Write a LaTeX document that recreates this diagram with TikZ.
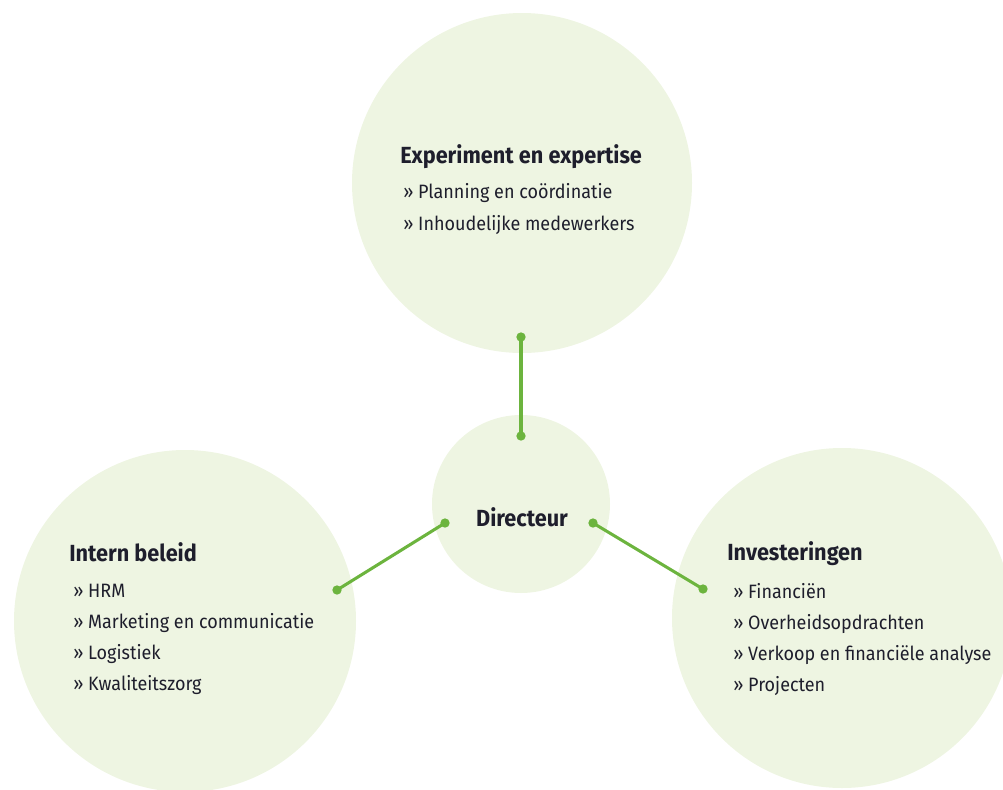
\documentclass[tikz,border=0pt]{standalone}
\usepackage{fontspec}
\setmainfont[FakeStretch=0.93]{Fira Sans}
\usetikzlibrary{positioning}

\definecolor{bubblefill}{RGB}{238,245,226}
\definecolor{linkgreen}{RGB}{108,180,62}
\definecolor{textdark}{RGB}{30,30,44}

\tikzset{
  bubble/.style={circle, fill=bubblefill, inner sep=0pt},
  heading/.style={anchor=base west, inner sep=0pt, text=textdark, font=\fontsize{17.5}{20}\selectfont\bfseries},
  item/.style={anchor=base west, inner sep=0pt, text=textdark, font=\fontsize{14.5}{17}\selectfont},
  link/.style={draw=linkgreen, line width=2.3pt},
  knob/.style={circle, fill=linkgreen, inner sep=0pt, minimum size=7pt},
}

\begin{document}
\begin{tikzpicture}[x=0.75pt, y=-0.75pt]

    \useasboundingbox (0,0) rectangle (1003,789);
    \clip (0,0) rectangle (1003,789);

    % Define nodes
    \node[bubble, minimum size=255pt]   (exp)    at (522,183) {};
    \node[bubble, minimum size=133.5pt] (dir)    at (521,504) {};
    \node[bubble, minimum size=256.5pt] (intern) at (185,621) {};
    \node[bubble, minimum size=255pt]   (inv)    at (842,618) {};

    \node[heading] (exp-head) at (400,163) {Experiment en expertise};
    \foreach \t [count=\i] in {Planning en coördinatie, Inhoudelijke medewerkers}
      \node[item] (exp-\i) at (403,166+32*\i) {» \t};

    \node[heading, anchor=center] (dir-head) at (522,517) {Directeur};

    \node[heading] (intern-head) at (69,561) {Intern beleid};
    \foreach \t [count=\i] in {HRM, Marketing en communicatie, Logistiek, Kwaliteitszorg}
      \node[item] (intern-\i) at (73,566+31*\i) {» \t};

    \node[heading] (inv-head) at (727,560) {Investeringen};
    \foreach \t [count=\i] in {Financiën, Overheidsopdrachten, Verkoop en financiële analyse, Projecten}
      \node[item] (inv-\i) at (733,567+31*\i) {» \t};

    % Connector ends
    \coordinate (exp-end)    at (521,337);
    \coordinate (dir-top)    at (521,436);
    \coordinate (dir-left)   at (445,523);
    \coordinate (dir-right)  at (593,523);
    \coordinate (intern-end) at (337,590);
    \coordinate (inv-end)    at (703,589);

    % Connect the nodes
    \draw[link] (exp-end) -- (dir-top);
    \draw[link] (dir-left) -- (intern-end);
    \draw[link] (dir-right) -- (inv-end);
    \foreach \c in {exp-end, dir-top, dir-left, dir-right, intern-end, inv-end}
      \node[knob] at (\c) {};

\end{tikzpicture}
\end{document}
